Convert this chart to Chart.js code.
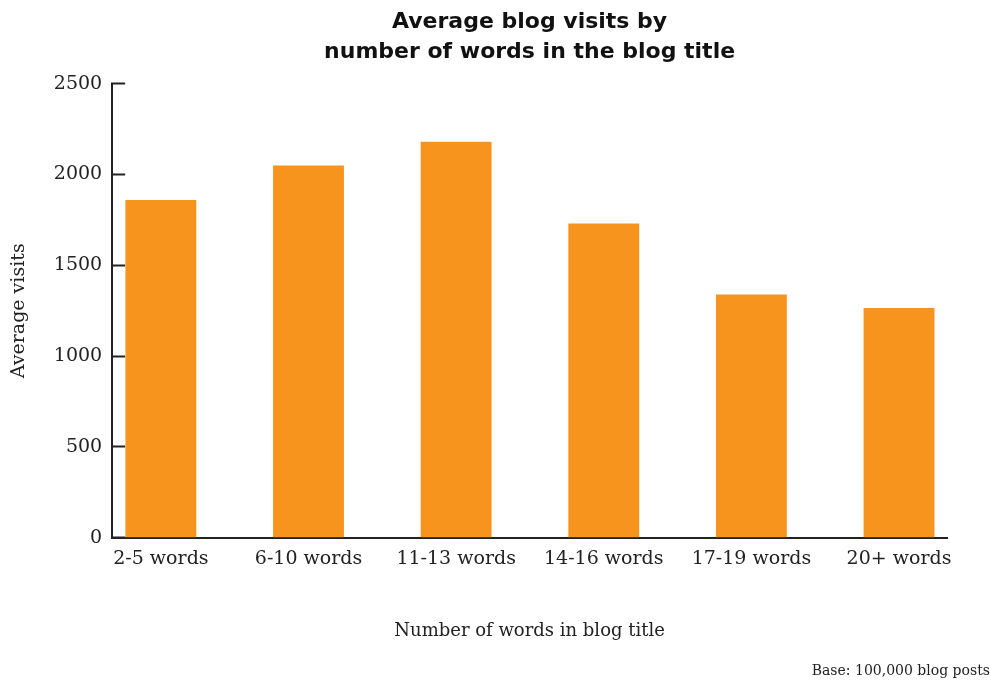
<!DOCTYPE html>
<html>
<head>
<meta charset="utf-8">
<title>Average blog visits by number of words in the blog title</title>
<script src="https://cdn.jsdelivr.net/npm/chart.js@4/dist/chart.umd.min.js"></script>
<style>
  html, body { margin: 0; padding: 0; background: #fff; }
  #wrap { width: 990px; height: 683px; }
</style>
</head>
<body>
<div id="wrap"><canvas id="visitsChart"></canvas></div>
<script>
// Datos
const categories = ['2-5 words', '6-10 words', '11-13 words', '14-16 words', '17-19 words', '20+ words'];
const visits = [1860, 2050, 2180, 1730, 1340, 1265];
const yMin = 0;
const yMax = 2500;
const yStep = 500;

const ink = '#222222';
const orange = '#F7941D';
const serif = 'DejaVu Serif';

function initVisitsChart() {
    const ctx = document.getElementById('visitsChart').getContext('2d');

    const data = {
        datasets: [{
            label: 'Average visits',
            data: visits.map((v, i) => ({ x: i, y: v })),
            backgroundColor: orange,
            borderWidth: 0,
            categoryPercentage: 1,
            barPercentage: 0.48
        }]
    };

    const config = {
        type: 'bar',
        data: data,
        options: {
            responsive: true,
            maintainAspectRatio: false,
            animation: false,
            layout: {
                padding: { top: 3, left: 4, right: 0, bottom: 0 }
            },
            plugins: {
                legend: { display: false },
                tooltip: { enabled: false },
                title: {
                    display: true,
                    fullSize: false,
                    text: ['Average blog visits by', 'number of words in the blog title'],
                    color: '#111',
                    font: { family: 'DejaVu Sans', size: 22, weight: 'bold', lineHeight: 1.38 },
                    padding: { top: 4, bottom: 16 }
                },
                subtitle: {
                    display: true,
                    position: 'bottom',
                    align: 'end',
                    text: 'Base: 100,000 blog posts',
                    color: ink,
                    font: { family: serif, size: 14, lineHeight: 1.2 },
                    padding: { top: 0, bottom: 3 }
                }
            },
            scales: {
                x: {
                    type: 'linear',
                    offset: false,
                    min: -0.33,
                    max: 5.325,
                    afterBuildTicks: (scale) => {
                        scale.ticks = categories.map((c, i) => ({ value: i }));
                    },
                    grid: { drawOnChartArea: false, drawTicks: false },
                    border: { display: true, color: ink, width: 2 },
                    ticks: {
                        autoSkip: false,
                        maxRotation: 0,
                        padding: 10,
                        color: ink,
                        font: { family: serif, size: 19, lineHeight: 1.2 },
                        callback: (value) => categories[value]
                    },
                    title: {
                        display: true,
                        text: 'Number of words in blog title',
                        color: ink,
                        font: { family: serif, size: 18, lineHeight: 1.2 },
                        padding: { top: 40, bottom: 21 }
                    }
                },
                y: {
                    min: yMin,
                    max: yMax,
                    grid: {
                        drawOnChartArea: false,
                        drawTicks: true,
                        tickLength: -13,   // marcas hacia dentro
                        tickWidth: 2,
                        tickColor: ink
                    },
                    border: { display: true, color: ink, width: 2 },
                    ticks: {
                        stepSize: yStep,
                        padding: 23,
                        color: ink,
                        font: { family: serif, size: 19, lineHeight: 1.2 },
                        callback: (value) => String(value)
                    },
                    title: {
                        display: true,
                        text: 'Average visits',
                        color: ink,
                        font: { family: serif, size: 19, lineHeight: 1.2 },
                        padding: { top: 4, bottom: 0 }
                    }
                },
                // eje vacío a la derecha, solo para dejar margen al área del gráfico
                yRight: {
                    position: 'right',
                    display: true,
                    grid: { display: false },
                    border: { display: false },
                    ticks: { display: false },
                    afterFit: (scale) => { scale.width = 43; }
                }
            }
        }
    };

    new Chart(ctx, config);
}

document.addEventListener('DOMContentLoaded', initVisitsChart);
</script>
</body>
</html>
